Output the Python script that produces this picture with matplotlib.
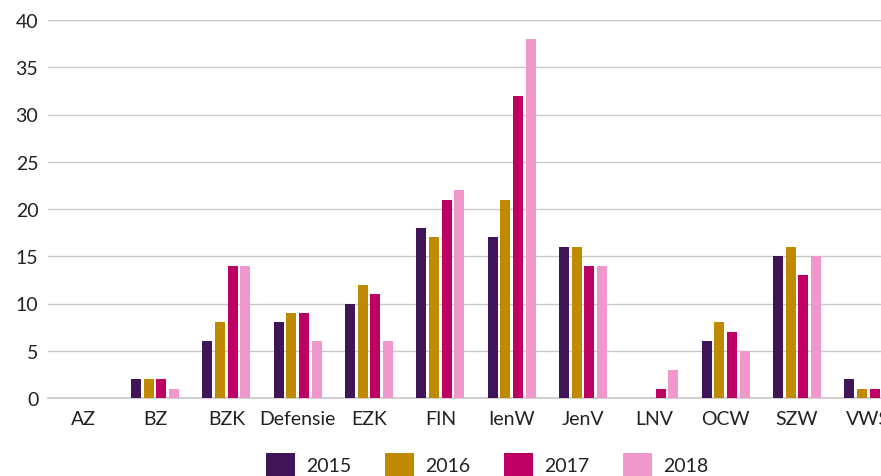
import matplotlib
matplotlib.use("Agg")
import matplotlib.pyplot as plt
import numpy as np

plt.rcParams['font.family'] = ['Lato', 'DejaVu Sans']

categories = ["AZ", "BZ", "BZK", "Defensie", "EZK", "FIN", "IenW", "JenV",
              "LNV", "OCW", "SZW", "VWS"]
years = ["2015", "2016", "2017", "2018"]
v2015 = [0, 2, 6, 8, 10, 18, 17, 16, 0, 6, 15, 2]
v2016 = [0, 2, 8, 9, 12, 17, 21, 16, 0, 8, 16, 1]
v2017 = [0, 2, 14, 9, 11, 21, 32, 14, 1, 7, 13, 1]
v2018 = [0, 1, 14, 6, 6, 22, 38, 14, 3, 5, 15, 2]
series = [v2015, v2016, v2017, v2018]
colors = ["#3F1558", "#C08A00", "#BE0064", "#F097CC"]

W, H = 881, 477
fig = plt.figure(figsize=(W / 100, H / 100), dpi=100)
# axes run past the right edge of the figure, so the last group is clipped
ax = fig.add_axes([48 / W, (H - 399) / H, 856 / W, 378 / H])

x = np.arange(len(categories))
bw = 0.14
step = 0.178
for i, (vals, c) in enumerate(zip(series, colors)):
    ax.bar(x + (i - 1.5) * step, vals, width=bw, color=c, label=years[i],
           zorder=3)

ax.set_xlim(-0.5, len(categories) - 0.5)
ax.set_ylim(0, 40)
ax.set_yticks(range(0, 41, 5))
ax.yaxis.grid(True, color="#C8C8C8", linewidth=1)
ax.set_axisbelow(True)
for s in ["top", "right", "left"]:
    ax.spines[s].set_visible(False)
ax.spines["bottom"].set_color("#C8C8C8")
ax.spines["bottom"].set_linewidth(1.2)
ax.set_xticks(x)
ax.set_xticklabels(categories, fontsize=14, color="#222222")
ax.tick_params(axis="both", length=0, labelsize=14, labelcolor="#222222")
ax.tick_params(axis="x", pad=9)
ax.tick_params(axis="y", pad=7)

fig.legend(loc="center", bbox_to_anchor=(0.553, 1 - 466 / H), ncol=4,
           frameon=False, fontsize=14, handlelength=1.5, handleheight=1.5,
           handletextpad=0.55, columnspacing=1.75, labelcolor="#222222")

fig.savefig("out.png", dpi=100)
